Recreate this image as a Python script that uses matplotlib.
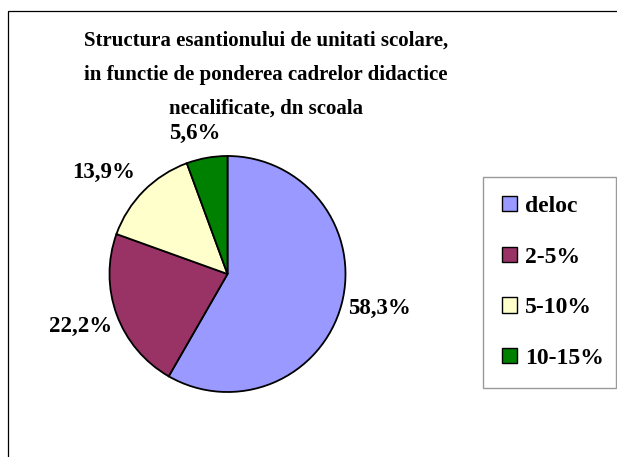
import numpy as np
import matplotlib.pyplot as plt
from matplotlib.patches import Patch, Rectangle

# date
categorii = ["deloc", "2-5%", "5-10%", "10-15%"]
valori = [58.3, 22.2, 13.9, 5.6]
etichete = ["58,3%", "22,2%", "13,9%", "5,6%"]
culori = ["#9999FF", "#993366", "#FFFFCC", "#008000"]

plt.rcParams['font.family'] = ['Liberation Serif', 'DejaVu Serif']
plt.rcParams['font.weight'] = 'bold'

W, H = 617, 457
fig = plt.figure(figsize=(W / 100, H / 100), dpi=100)

# chenarul graficului
fig.patches.append(Rectangle((8 / W, -0.1), 1.2, 1.1 - 11 / H, transform=fig.transFigure,
                             fill=False, edgecolor='black', linewidth=0.9, clip_on=False))

fig.text(266 / W, 1 - 75 / H,
         "Structura esantionului de unitati scolare,\nin functie de ponderea cadrelor didactice\nnecalificate, dn scoala",
         ha='center', va='center', fontsize=15, fontweight='bold', linespacing=1.93)

# pie
cx, cy, r = 227.5, 274, 118
ax = fig.add_axes([(cx - r) / W, 1 - (cy + r) / H, 2 * r / W, 2 * r / H])
wedges, _ = ax.pie(valori, colors=culori, startangle=90, counterclock=False,
                   wedgeprops=dict(edgecolor='black', linewidth=1.3))
ax.set_xlim(-1, 1)
ax.set_ylim(-1, 1)
ax.axis('off')

dist = [1.06, 1.04, 1.1, 1.12]
for w, txt, d in zip(wedges, etichete, dist):
    a = np.deg2rad((w.theta1 + w.theta2) / 2)
    x, y = np.cos(a), np.sin(a)
    ha = 'center' if abs(x) < 0.3 else ('left' if x > 0 else 'right')
    va = 'bottom' if y > 0.3 else ('center' if y > -0.3 else 'top')
    ax.text(d * x - (0.08 if ha == 'center' else 0), d * y - (0.02 if va == 'center' and y < 0 else 0),
            txt, ha=ha, va=va, fontsize=16.5, fontweight='bold', clip_on=False)

# legenda
handles = [Patch(facecolor=c, edgecolor='black', linewidth=1.0) for c in culori]
leg = fig.legend(handles, categorii, loc='upper left',
                 bbox_to_anchor=(483 / W, 1 - 382 / H, 133 / W, 205 / H), mode='expand',
                 frameon=True, fancybox=False, edgecolor='#808080', borderaxespad=0,
                 prop=dict(size=17, weight='bold'), handlelength=0.64, handleheight=0.64,
                 handletextpad=0.34, labelspacing=1.25, borderpad=0.8)
leg.get_frame().set_linewidth(1.0)

fig.savefig("out.png", dpi=100)
